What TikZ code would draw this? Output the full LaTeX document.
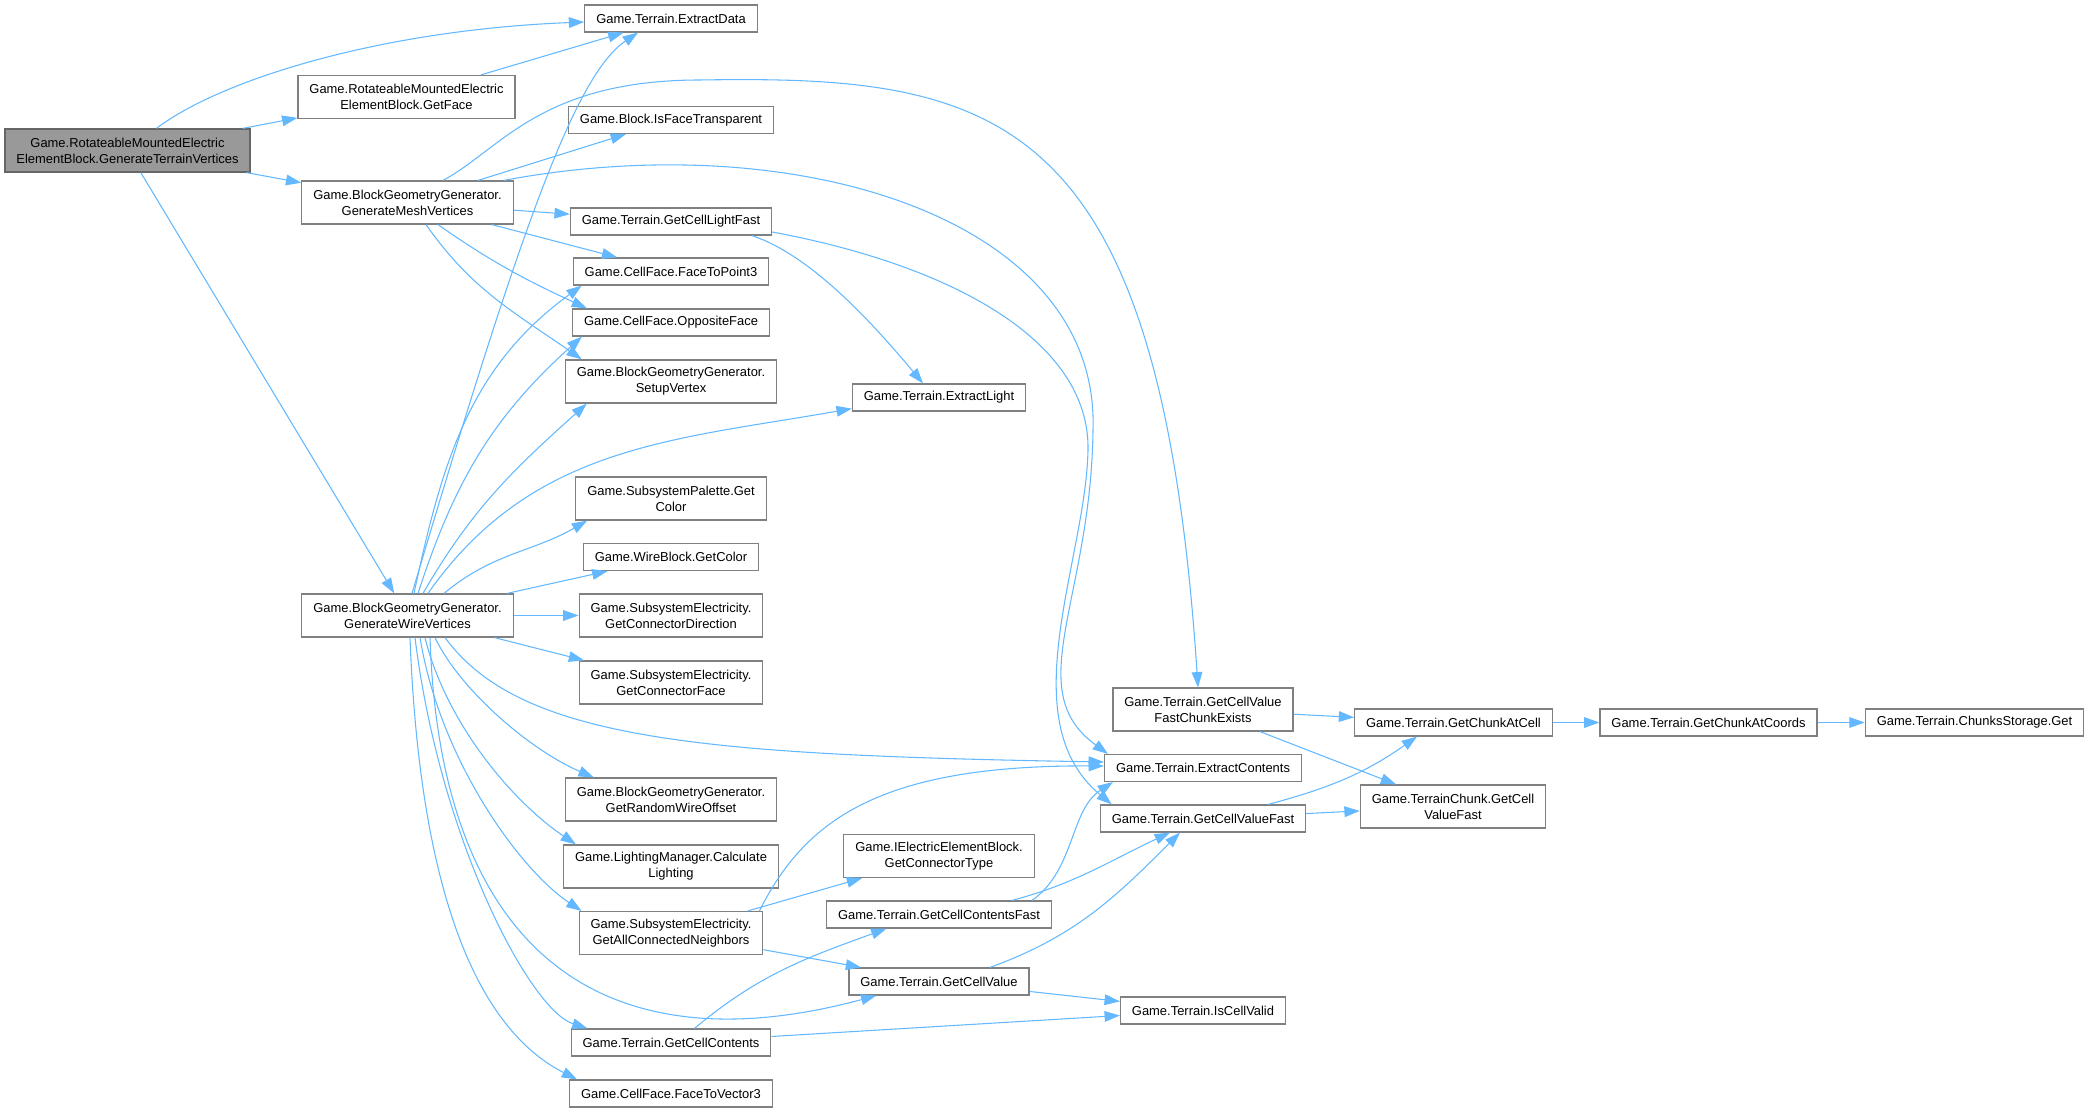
\documentclass[tikz,border=0pt]{standalone}
\usepackage{fontspec}
\setmainfont{Liberation Sans}
\usetikzlibrary{arrows.meta}
\definecolor{linkblue}{HTML}{63B8FF}
\definecolor{boxline}{HTML}{808080}
\definecolor{rootfill}{HTML}{999999}
\definecolor{rootline}{HTML}{666666}

\begin{document}
\begin{tikzpicture}[x=0.75pt, y=-0.75pt]

      \useasboundingbox (0,0) rectangle (2089,1112);

      \begin{scope}[every node/.style={draw=boxline, line width=0.9pt, fill=white,
          inner xsep=8.6pt, inner ysep=0pt, minimum height=20.25pt, align=center,
          font=\fontsize{9.7}{12}\selectfont}]
        \node[fill=rootfill, draw=rootline, minimum height=32.25pt] (1) at (127.5,150.5) {Game.RotateableMountedElectric\\ElementBlock.GenerateTerrainVertices};
        \node[minimum height=32.25pt] (2)  at (406.5,97)    {Game.RotateableMountedElectric\\ElementBlock.GetFace};
        \node[minimum height=32.25pt] (3)  at (407.5,202.5) {Game.BlockGeometryGenerator.\\GenerateMeshVertices};
        \node[minimum height=32.25pt] (4)  at (407.5,615.5) {Game.BlockGeometryGenerator.\\GenerateWireVertices};
        \node (5)  at (671,18.5)  {Game.Terrain.ExtractData};
        \node (6)  at (671,120)   {Game.Block.IsFaceTransparent};
        \node (7)  at (671,221.5) {Game.Terrain.GetCellLightFast};
        \node (8)  at (671,271.5) {Game.CellFace.FaceToPoint3};
        \node (9)  at (671,322.5) {Game.CellFace.OppositeFace};
        \node[minimum height=32.25pt] (10) at (671,381.5) {Game.BlockGeometryGenerator.\\SetupVertex};
        \node[minimum height=32.25pt] (11) at (671,498.5) {Game.SubsystemPalette.Get\\Color};
        \node (12) at (671,557)   {Game.WireBlock.GetColor};
        \node[minimum height=32.25pt] (13) at (671,615.5) {Game.SubsystemElectricity.\\GetConnectorDirection};
        \node[minimum height=32.25pt] (14) at (671,682.5) {Game.SubsystemElectricity.\\GetConnectorFace};
        \node[minimum height=32.25pt] (15) at (671,799.5) {Game.BlockGeometryGenerator.\\GetRandomWireOffset};
        \node[minimum height=32.25pt] (16) at (671,866.5) {Game.LightingManager.Calculate\\Lighting};
        \node[minimum height=32.25pt] (17) at (671,933)   {Game.SubsystemElectricity.\\GetAllConnectedNeighbors};
        \node (18) at (671,1042.5) {Game.Terrain.GetCellContents};
        \node (19) at (671,1093.5) {Game.CellFace.FaceToVector3};
        \node (20) at (939,397.5) {Game.Terrain.ExtractLight};
        \node[minimum height=32.25pt] (21) at (939,856) {Game.IElectricElementBlock.\\GetConnectorType};
        \node (22) at (939,914.5) {Game.Terrain.GetCellContentsFast};
        \node (23) at (939,981.5) {Game.Terrain.GetCellValue};
        \node[minimum height=32.25pt] (24) at (1203,709.5) {Game.Terrain.GetCellValue\\FastChunkExists};
        \node (25) at (1203,768)   {Game.Terrain.ExtractContents};
        \node (26) at (1203,818.5) {Game.Terrain.GetCellValueFast};
        \node (27) at (1203,1010.5) {Game.Terrain.IsCellValid};
        \node (28) at (1453.5,722.5) {Game.Terrain.GetChunkAtCell};
        \node[minimum height=32.25pt] (29) at (1453,806.5) {Game.TerrainChunk.GetCell\\ValueFast};
        \node (30) at (1708.5,722.5) {Game.Terrain.GetChunkAtCoords};
        \node (31) at (1974.5,722.5) {Game.Terrain.ChunksStorage.Get};
      \end{scope}

      \begin{scope}[every edge/.style={draw=linkblue, line width=0.8pt, -{Triangle[length=11.5pt,width=8pt]}},
          via/.style 2 args={to path={.. controls #1 and #2 .. (\tikztotarget)}},
          twobend/.style n args={5}{to path={.. controls #1 and #2 .. #3 .. controls #4 and #5 .. (\tikztotarget)}}]

        \path (1) edge[via={(220,80)}{(380,30)}] ([shift={(0,3.5)}]5.west);
        \path (1) edge (2);
        \path (1) edge (3);
        \path (1) edge (4);
        \path (2) edge (5);

        \path (3) edge (6);
        \path (3) edge (7);
        \path (3) edge (8);
        \path ([shift={(30.5,0)}]3.south) edge[out=-35, in=155] ([shift={(15,0)}]9.north west);
        \path ([shift={(18.5,0)}]3.south) edge[out=-55, in=145] ([shift={(17,0)}]10.north west);
        \path ([shift={(35.5,0)}]3.north) edge[twobend={(500,150)}{(540,80)}{(700,80)}{(1000,75)}{(1160,110)}] ([shift={(-5,0)}]24.north);
        \path ([shift={(-10,0)}]3.north east) edge[twobend={(800,125)}{(1100,220)}{(1093,430)}{(1091,600)}{(1020,690)}] ([shift={(4,0)}]25.north west);

        \path ([shift={(81,0)}]7.south) edge[via={(810,255)}{(870,320)}] ([shift={(-16,0)}]20.north);
        \path ([shift={(0,10.5)}]7.east) edge[twobend={(950,265)}{(1090,340)}{(1088,450)}{(1086,560)}{(1010,720)}] ([shift={(12,0)}]26.north west);

        \path ([shift={(4.5,0)}]4.north) edge[via={(520,230)}{(575,75)}] ([shift={(-33,0)}]5.south);
        \path ([shift={(6.5,0)}]4.north) edge[out=78, in=216] ([shift={(9,0)}]8.south west);
        \path ([shift={(10.5,0)}]4.north) edge[out=72, in=222] ([shift={(10,0)}]9.south west);
        \path ([shift={(15.5,0)}]4.north) edge[out=60, in=222] ([shift={(22,0)}]10.south west);
        \path ([shift={(20.5,0)}]4.north) edge[out=55, in=190] ([shift={(0,-3)}]20.south west);
        \path ([shift={(36.5,0)}]4.north) edge[out=40, in=210] ([shift={(12,0)}]11.south west);
        \path (4) edge (12);
        \path (4) edge (13);
        \path (4) edge (14);
        \path ([shift={(37.5,0)}]4.south) edge[via={(520,740)}{(700,755)}] ([shift={(0,-6)}]25.west);
        \path ([shift={(27.5,0)}]4.south) edge[via={(460,690)}{(530,750)}] ([shift={(29,0)}]15.north west);
        \path ([shift={(17.5,0)}]4.south) edge[via={(445,720)}{(510,800)}] ([shift={(13,0)}]16.north west);
        \path ([shift={(12.5,0)}]4.south) edge[via={(440,760)}{(520,870)}] ([shift={(3,0)}]17.north west);
        \path ([shift={(22.5,0)}]4.south) edge[via={(440,950)}{(600,1070)}] ([shift={(28,0)}]23.south west);
        \path ([shift={(7.5,0)}]4.south) edge[via={(440,840)}{(530,1010)}] ([shift={(17,0)}]18.north west);
        \path ([shift={(2.5,0)}]4.south) edge[via={(420,900)}{(480,1030)}] ([shift={(8,0)}]19.north west);

        \path (17) edge (21);
        \path (17) edge (23);
        \path ([shift={(-4,0)}]17.north east) edge[via={(805,820)}{(880,765)}] ([shift={(0,-2)}]25.west);
        \path ([shift={(23.5,0)}]18.north) edge[out=40, in=200] ([shift={(-52.5,0)}]22.south);
        \path (18) edge (27);
        \path ([shift={(-20,0)}]22.north east) edge[via={(1075,870)}{(1070,810)}] ([shift={(9,0)}]25.south west);
        \path ([shift={(-40,0)}]22.north east) edge[out=15, in=205] ([shift={(-33,0)}]26.south);
        \path ([shift={(51,0)}]23.north) edge[out=20, in=225] ([shift={(-23,0)}]26.south);
        \path (23) edge (27);

        \path (24) edge (28);
        \path (24) edge (29);
        \path ([shift={(-38,0)}]26.north east) edge[out=15, in=215] ([shift={(-36.5,0)}]28.south);
        \path (26) edge (29);
        \path (28) edge (30);
        \path (30) edge (31);
      \end{scope}

    \end{tikzpicture}
\end{document}
